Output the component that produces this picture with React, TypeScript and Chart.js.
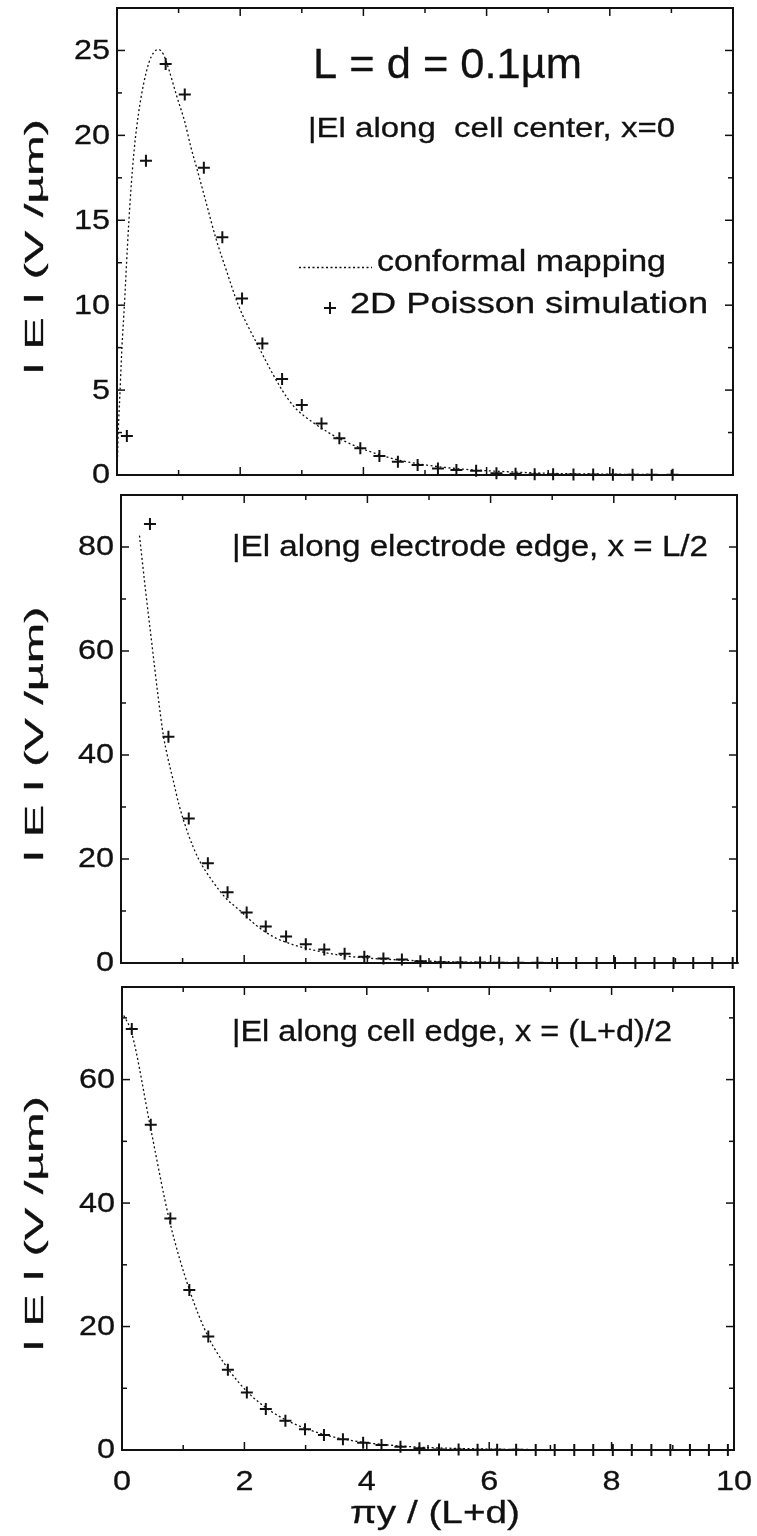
import React, { useEffect, useRef } from "react";
import { Chart, registerables } from "chart.js";
Chart.register(...registerables);

const INK = "#111";
const FONT = '"Liberation Sans", Arial, Helvetica, sans-serif';

// ---------- axes ----------
const X_MAJOR = [0, 2, 4, 6, 8, 10];
const X_MINOR = [1, 3, 5, 7, 9];
const X_LABELS = ["0", "2", "4", "6", "8", "10"];

const Y_MAJOR_TOP = [0, 5, 10, 15, 20, 25];
const Y_MINOR_TOP = [2.5, 7.5, 12.5, 17.5, 22.5];
const Y_MAJOR_MID = [0, 20, 40, 60, 80];
const Y_MINOR_MID = [10, 30, 50, 70];
const Y_MAJOR_BOT = [0, 20, 40, 60];
const Y_MINOR_BOT = [10, 30, 50, 70];

// ---------- panel 1: cell center ----------
const CM_X_TOP = [0, 0.02, 0.05, 0.08, 0.12, 0.17, 0.22, 0.28, 0.35, 0.43, 0.52, 0.6, 0.67, 0.75, 0.84, 0.97, 1.1, 1.2, 1.3, 1.45, 1.6, 1.78, 1.97, 2.27, 2.68, 2.88, 3.22, 3.69, 4.44, 5.0, 5.6, 6.3, 7.0, 8.0, 9.0, 10.0];
const CM_Y_TOP = [0, 2.5, 5, 7.5, 10, 13.5, 16.5, 19.2, 21.3, 23.0, 24.3, 24.9, 25.05, 24.8, 23.9, 22.3, 20.8, 19.3, 18.0, 16.0, 14.0, 12.0, 10.0, 7.75, 5.0, 4.0, 3.0, 2.0, 1.0, 0.6, 0.35, 0.2, 0.1, 0.05, 0.02, 0.01];
const SIM_X_TOP = [0.16, 0.47, 0.79, 1.1, 1.41, 1.71, 2.03, 2.36, 2.68, 3.0, 3.32, 3.61, 3.95, 4.26, 4.56, 4.88, 5.21, 5.51, 5.83, 6.16, 6.47, 6.78, 7.08, 7.41, 7.73, 8.05, 8.37, 8.68, 9.02];
const SIM_Y_TOP = [2.3, 18.5, 24.2, 22.4, 18.1, 14.0, 10.4, 7.75, 5.65, 4.12, 3.04, 2.16, 1.57, 1.12, 0.78, 0.59, 0.39, 0.29, 0.25, 0.1, 0.08, 0.05, 0.04, 0.03, 0.03, 0.02, 0.02, 0.01, 0.01];

// ---------- panel 2: electrode edge ----------
const CM_X_MID = [0.3, 0.4, 0.5, 0.6, 0.69, 0.75, 0.85, 0.94, 1.1, 1.26, 1.5, 1.7, 1.94, 2.2, 2.48, 2.8, 3.12, 3.5, 3.94, 4.5, 5.0, 5.5, 6.0, 7.0, 8.0, 10.0];
const CM_Y_MID = [82.2, 71.5, 61.5, 51.5, 43.6, 40.0, 35.0, 30.5, 24.5, 20.0, 15.5, 12.5, 10.0, 7.2, 5.0, 3.5, 2.5, 1.6, 1.0, 0.6, 0.35, 0.2, 0.12, 0.05, 0.02, 0];
const SIM_X_MID = [0.47, 0.77, 1.1, 1.41, 1.73, 2.04, 2.35, 2.68, 3.0, 3.3, 3.63, 3.95, 4.26, 4.56, 4.86, 5.19, 5.51, 5.83, 6.14, 6.45, 6.76, 7.08, 7.39, 7.72, 8.02, 8.35, 8.66, 8.97, 9.29, 9.6, 9.93];
const SIM_Y_MID = [84.4, 43.5, 27.8, 19.2, 13.6, 9.7, 7.0, 5.1, 3.6, 2.6, 1.8, 1.2, 0.85, 0.65, 0.35, 0.15, 0.1, 0.08, 0.05, 0.04, 0.03, 0.02, 0.02, 0.01, 0.01, 0.01, 0, 0, 0, 0, 0];

// ---------- panel 3: cell edge ----------
const CM_X_BOT = [0.03, 0.16, 0.47, 0.78, 1.1, 1.41, 1.73, 2.04, 2.36, 2.67, 3.0, 3.3, 3.6, 3.9, 4.25, 4.55, 5.0, 5.5, 6.0, 7.0, 8.0, 10.0];
const CM_Y_BOT = [70.4, 67.5, 52.0, 37.0, 26.0, 18.3, 13.2, 9.5, 6.8, 4.9, 3.5, 2.5, 1.8, 1.3, 0.9, 0.65, 0.4, 0.25, 0.15, 0.05, 0.02, 0];
const SIM_X_BOT = [0.16, 0.47, 0.79, 1.1, 1.41, 1.73, 2.04, 2.35, 2.67, 2.99, 3.3, 3.61, 3.94, 4.24, 4.55, 4.86, 5.18, 5.5, 5.81, 6.13, 6.44, 6.76, 7.07, 7.39, 7.7, 8.02, 8.33, 8.65, 8.96, 9.28, 9.59, 9.9];
const SIM_Y_BOT = [68.2, 52.7, 37.5, 25.9, 18.4, 13.0, 9.3, 6.65, 4.75, 3.35, 2.43, 1.73, 1.19, 0.81, 0.54, 0.3, 0.1, 0.08, 0.05, 0.04, 0.03, 0.02, 0.02, 0.01, 0.01, 0.01, 0, 0, 0, 0, 0, 0];

// ---------- text ----------
const TITLE = "L = d = 0.1µm";
const NOTE_TOP = "|El along  cell center, x=0";
const NOTE_MID = "|El along electrode edge, x = L/2";
const NOTE_BOT = "|El along cell edge, x = (L+d)/2";
const LEGEND_LINE = "conformal mapping";
const LEGEND_MARK = "2D Poisson simulation";
const Y_TITLE = "l E l (V /µm)";
const X_TITLE = "πy / (L+d)";

type TextItem = { t: string; x: number; y: number; size: number; w: number };
type Panel = {
  top: number; height: number;
  left: number; right: number; plotTop: number; plotBottom: number;
  ymax: number; yMajor: number[]; yMinor: number[];
  cmX: number[]; cmY: number[]; simX: number[]; simY: number[];
  xLabels: boolean; legend: boolean; texts: TextItem[];
};

const W = 757;

const PANELS: Panel[] = [
  {
    top: 0, height: 490, left: 117, right: 733, plotTop: 7, plotBottom: 475,
    ymax: 27.5, yMajor: Y_MAJOR_TOP, yMinor: Y_MINOR_TOP,
    cmX: CM_X_TOP, cmY: CM_Y_TOP, simX: SIM_X_TOP, simY: SIM_Y_TOP,
    xLabels: false, legend: true,
    texts: [
      { t: TITLE, x: 313, y: 78, size: 43, w: 269 },
      { t: NOTE_TOP, x: 308, y: 137, size: 28, w: 367 },
      { t: LEGEND_LINE, x: 377, y: 271, size: 29, w: 289 },
      { t: LEGEND_MARK, x: 350, y: 313, size: 29, w: 358 },
    ],
  },
  {
    top: 485, height: 495, left: 121, right: 737, plotTop: 495, plotBottom: 963,
    ymax: 90, yMajor: Y_MAJOR_MID, yMinor: Y_MINOR_MID,
    cmX: CM_X_MID, cmY: CM_Y_MID, simX: SIM_X_MID, simY: SIM_Y_MID,
    xLabels: false, legend: false,
    texts: [{ t: NOTE_MID, x: 232, y: 556, size: 29, w: 476 }],
  },
  {
    top: 975, height: 561, left: 122, right: 734, plotTop: 987, plotBottom: 1450,
    ymax: 75, yMajor: Y_MAJOR_BOT, yMinor: Y_MINOR_BOT,
    cmX: CM_X_BOT, cmY: CM_Y_BOT, simX: SIM_X_BOT, simY: SIM_Y_BOT,
    xLabels: true, legend: false,
    texts: [{ t: NOTE_BOT, x: 232, y: 1041, size: 29, w: 440 }],
  },
];

function drawText(ctx: CanvasRenderingContext2D, text: string, x: number, y: number, size: number,
  align: CanvasTextAlign, baseline: CanvasTextBaseline, sx: number) {
  ctx.save();
  ctx.font = `${size}px ${FONT}`;
  ctx.fillStyle = INK;
  ctx.strokeStyle = INK;
  ctx.lineWidth = 0.3;
  ctx.textAlign = align;
  ctx.textBaseline = baseline;
  ctx.translate(x, y);
  ctx.scale(sx, 1);
  ctx.fillText(text, 0, 0);
  ctx.strokeText(text, 0, 0);
  ctx.restore();
}

function drawFit(ctx: CanvasRenderingContext2D, text: string, x: number, y: number, size: number,
  width: number, align: CanvasTextAlign = "left") {
  ctx.save();
  ctx.font = `${size}px ${FONT}`;
  const m = ctx.measureText(text).width;
  ctx.restore();
  drawText(ctx, text, x, y, size, align, "alphabetic", width / m);
}

function seg(ctx: CanvasRenderingContext2D, x1: number, y1: number, x2: number, y2: number) {
  ctx.beginPath();
  ctx.moveTo(x1, y1);
  ctx.lineTo(x2, y2);
  ctx.stroke();
}

function makePlugin(p: Panel) {
  return {
    id: "frame",
    afterDraw(chart: any) {
      const ctx: CanvasRenderingContext2D = chart.ctx;
      const a = chart.chartArea;
      const xs = chart.scales.x;
      const ys = chart.scales.y;
      const off = p.top;
      ctx.save();
      ctx.strokeStyle = INK;
      ctx.lineWidth = 2;
      ctx.strokeRect(a.left, a.top, a.right - a.left, a.bottom - a.top);
      ctx.lineWidth = 1.5;
      const xt = (vals: number[], len: number) => vals.forEach((v) => {
        const px = xs.getPixelForValue(v);
        seg(ctx, px, a.bottom, px, a.bottom - len);
        seg(ctx, px, a.top, px, a.top + len);
      });
      const yt = (vals: number[], len: number) => vals.forEach((v) => {
        const py = ys.getPixelForValue(v);
        seg(ctx, a.left, py, a.left + len, py);
        seg(ctx, a.right, py, a.right - len, py);
      });
      xt(X_MAJOR, 8); xt(X_MINOR, 5);
      yt(p.yMajor, 8); yt(p.yMinor, 5);
      ctx.restore();

      // y tick labels
      p.yMajor.forEach((v) => {
        drawText(ctx, String(v), a.left - 7, ys.getPixelForValue(v) + 1, 27, "right", "middle", 1.2);
      });
      // x tick labels
      if (p.xLabels) {
        X_MAJOR.forEach((v, i) => {
          drawText(ctx, X_LABELS[i], xs.getPixelForValue(v), a.bottom + 40, 27, "center", "alphabetic", 1.2);
        });
        drawFit(ctx, X_TITLE, 435, 1523 - off, 31, 170, "center");
      }
      // y title (rotated, stretched along its length)
      {
        ctx.save();
        ctx.font = `25px ${FONT}`;
        const m = ctx.measureText(Y_TITLE).width;
        ctx.fillStyle = INK;
        ctx.strokeStyle = INK;
        ctx.lineWidth = 0.3;
        ctx.textAlign = "center";
        ctx.textBaseline = "alphabetic";
        ctx.translate(43, (a.top + a.bottom) / 2 + 5);
        ctx.rotate(-Math.PI / 2);
        ctx.scale(255 / m, 1);
        ctx.fillText(Y_TITLE, 0, 0);
        ctx.strokeText(Y_TITLE, 0, 0);
        ctx.restore();
      }
      // annotations
      p.texts.forEach((t) => drawFit(ctx, t.t, t.x, t.y - off, t.size, t.w));
      // legend samples
      if (p.legend) {
        ctx.save();
        ctx.strokeStyle = INK;
        ctx.lineWidth = 1.3;
        ctx.setLineDash([2, 2.5]);
        seg(ctx, 299, 267.5 - off, 372, 267.5 - off);
        ctx.setLineDash([]);
        ctx.lineWidth = 2;
        seg(ctx, 324, 308 - off, 336, 308 - off);
        seg(ctx, 330, 302 - off, 330, 314 - off);
        ctx.restore();
      }
    },
  };
}

function PanelChart({ p }: { p: Panel }) {
  const ref = useRef<HTMLCanvasElement | null>(null);
  useEffect(() => {
    if (!ref.current) return;
    const chart = new Chart(ref.current, {
      type: "scatter",
      data: {
        datasets: [
          {
            type: "line",
            data: p.cmX.map((x, i) => ({ x, y: p.cmY[i] })),
            borderColor: INK,
            borderWidth: 1.3,
            borderDash: [2, 2.5],
            pointRadius: 0,
            fill: false,
            cubicInterpolationMode: "monotone",
          } as any,
          {
            type: "scatter",
            data: p.simX.map((x, i) => ({ x, y: p.simY[i] })),
            pointStyle: "cross",
            pointRadius: 6,
            borderColor: INK,
            backgroundColor: INK,
            borderWidth: 2,
            clip: false,
          } as any,
        ],
      },
      options: {
        animation: false,
        responsive: false,
        maintainAspectRatio: false,
        devicePixelRatio: 1,
        events: [],
        layout: { padding: { left: 0, right: W - p.right, top: p.plotTop - p.top, bottom: 0 } },
        plugins: { legend: { display: false }, tooltip: { enabled: false }, title: { display: false } },
        scales: {
          x: {
            type: "linear", min: 0, max: 10,
            ticks: { display: false, stepSize: 1 },
            grid: { display: false, drawTicks: false },
            border: { display: false },
            afterFit: (s: any) => { s.height = p.top + p.height - p.plotBottom; },
          },
          y: {
            type: "linear", min: 0, max: p.ymax,
            ticks: { display: false },
            grid: { display: false, drawTicks: false },
            border: { display: false },
            afterFit: (s: any) => { s.width = p.left; },
          },
        },
      } as any,
      plugins: [makePlugin(p)],
    });
    return () => chart.destroy();
  }, [p]);
  return (
    <canvas
      ref={ref}
      width={W}
      height={p.height}
      style={{ position: "absolute", left: 0, top: p.top, width: W, height: p.height }}
    />
  );
}

export default function App() {
  return (
    <div style={{ position: "absolute", left: 0, top: 0, width: W, height: 1536, background: "#fff" }}>
      {PANELS.map((p, i) => <PanelChart key={i} p={p} />)}
    </div>
  );
}
